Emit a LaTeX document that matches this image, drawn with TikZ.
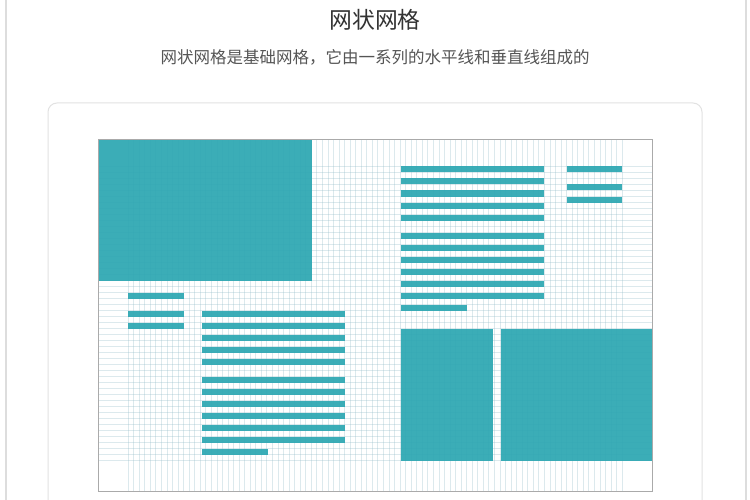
\documentclass[tikz,border=0pt]{standalone}
\usepackage{fontspec}
\newfontfamily\cjk{Noto Sans CJK SC}
\definecolor{tealc}{HTML}{2FA8B3}
\definecolor{gridc}{HTML}{8DB9C6}
\definecolor{framec}{HTML}{AAAAAA}
\definecolor{cardc}{HTML}{E2E2E2}
\definecolor{pagec}{HTML}{DDDDDD}
\definecolor{titlec}{HTML}{333333}
\definecolor{subc}{HTML}{555555}
\begin{document}
\begin{tikzpicture}[x=1pt,y=-1pt,
  bar/.style={fill=tealc,fill opacity=0.94},
  gridline/.style={draw=gridc,line width=0.6pt,opacity=0.3},
  pageline/.style={draw=pagec,line width=1.5pt},
  cardbox/.style={draw=cardc,line width=1pt,rounded corners=9pt,fill=white},
  framebox/.style={draw=framec,line width=1pt},
  titletext/.style={font=\cjk\fontsize{22.8}{26}\selectfont,text=titlec,inner sep=0pt},
  subtext/.style={font=\cjk\fontsize{16.5}{20}\selectfont,text=subc,inner sep=0pt}]
\useasboundingbox (0,0) rectangle (750,500);
\clip (0,0) rectangle (750,500);
\fill[white] (0,0) rectangle (750,500);
\draw[pageline] (6,0) -- (6,500);
\draw[pageline] (746,0) -- (746,500);
\draw[cardbox] (48,103) rectangle (702,540);
\node[titletext] (title) at (375,20) {网状网格};
\node[subtext] (sub) at (375,57) {网状网格是基础网格，它由一系列的水平线和垂直线组成的};
% grid
\foreach \i in {0,...,89}
  \draw[gridline] ({128+\i*5.5506},140) -- ++(0,351.5);
\foreach \j in {0,...,49}
  \draw[gridline] (98,{166.5+6*\j}) -- (652,{166.5+6*\j});
% blocks
\fill[bar] (98,140) rectangle (311.5,280.5);
\fill[bar] (400.5,328.5) rectangle (493,460.5);
\fill[bar] (500.5,328.5) rectangle (652,460.5);
% right text block
\foreach \c in {169.5,181.5,193.5,205.5,217.5,235.5,247.5,259.5,271.5,283.5,295.5}
  \fill[bar] (400.5,\c-3) rectangle (544,\c+3);
\fill[bar] (400.5,304.5) rectangle (467,310.5);
\foreach \c in {169.5,187.5,199.5}
  \fill[bar] (566.5,\c-3) rectangle (621.5,\c+3);
% left small bars
\foreach \c in {295.5,313.5,325.5}
  \fill[bar] (128.3,\c-3) rectangle (183.5,\c+3);
% middle text block
\foreach \c in {313.5,325.5,337.5,349.5,361.5,379.5,391.5,403.5,415.5,427.5,439.5}
  \fill[bar] (201.5,\c-3) rectangle (345,\c+3);
\fill[bar] (201.5,448.5) rectangle (267.5,454.5);
% frame
\draw[framebox] (98,140) rectangle (652,491.5);
\end{tikzpicture}
\end{document}
